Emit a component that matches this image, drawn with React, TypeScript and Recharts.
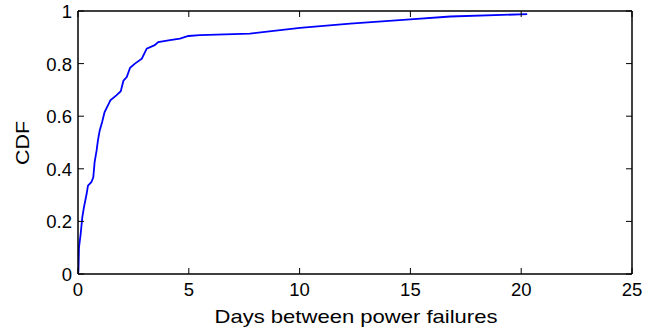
import React from 'react';
import { LineChart, Line, XAxis, YAxis } from 'recharts';

// Days between power failures (x) and cumulative fraction (y)
const days = [0, 0.02, 0.045, 0.12, 0.195, 0.27, 0.39, 0.45, 0.6, 0.69, 0.75, 0.84, 0.9, 0.98, 1.09, 1.2, 1.39, 1.46, 1.73, 1.93, 2.05, 2.2, 2.35, 2.57, 2.88, 3.1, 3.46, 3.62, 4.15, 4.6, 4.98, 5.5, 7.76, 10.02, 12.28, 14.99, 16.8, 20.27];
const cdf = [0, 0.013, 0.101, 0.152, 0.216, 0.254, 0.305, 0.336, 0.349, 0.368, 0.425, 0.47, 0.508, 0.546, 0.578, 0.616, 0.648, 0.66, 0.679, 0.695, 0.735, 0.749, 0.784, 0.8, 0.819, 0.857, 0.87, 0.882, 0.889, 0.895, 0.905, 0.908, 0.914, 0.936, 0.952, 0.968, 0.979, 0.988];

const xTicks = [0, 5, 10, 15, 20, 25];
const yTicks = [0, 0.2, 0.4, 0.6, 0.8, 1];
const yTickLabels = ['0', '0.2', '0.4', '0.6', '0.8', '1'];
const xLabel = 'Days between power failures';
const yLabel = 'CDF';

const data = days.map((d, i) => ({ x: d, y: cdf[i] }));

const FONT = '"Liberation Sans", Arial, Helvetica, sans-serif';
const TICK_LEN = 6;
const AXIS_W = 1.5;

const BottomTick = (props: any) => {
  const { x, y, payload } = props;
  return (
    <g>
      <line x1={x} y1={y} x2={x} y2={y - TICK_LEN} stroke="#000" strokeWidth={1} />
      <text x={x} y={y + 22} textAnchor="middle" fontFamily={FONT} fontSize={18.5} fill="#000">
        {String(payload.value)}
      </text>
    </g>
  );
};

const TopTick = (props: any) => {
  const { x, y } = props;
  return <line x1={x} y1={y} x2={x} y2={y + TICK_LEN} stroke="#000" strokeWidth={1} />;
};

const LeftTick = (props: any) => {
  const { x, y, payload } = props;
  const idx = yTicks.indexOf(payload.value);
  const lbl = idx >= 0 ? yTickLabels[idx] : String(payload.value);
  return (
    <g>
      <line x1={x} y1={y} x2={x + TICK_LEN} y2={y} stroke="#000" strokeWidth={1} />
      <text x={x - 6} y={y + 7} textAnchor="end" fontFamily={FONT} fontSize={18.5} fill="#000">
        {lbl}
      </text>
    </g>
  );
};

const RightTick = (props: any) => {
  const { x, y } = props;
  return <line x1={x} y1={y} x2={x - TICK_LEN} y2={y} stroke="#000" strokeWidth={1} />;
};

const XLabel = (props: any) => {
  const vb = props.viewBox || { x: 78, y: 274, width: 554 };
  const cx = vb.x + vb.width / 2 + 1;
  return (
    <text x={cx} y={323} textAnchor="middle" fontFamily={FONT} fontSize={18.5} fill="#000" textLength={283} lengthAdjust="spacingAndGlyphs">
      {xLabel}
    </text>
  );
};

const YLabel = () => {
  return (
    <text x={28.5} y={143} textAnchor="middle" fontFamily={FONT} fontSize={18.5} fill="#000" transform="rotate(-90, 28.5, 143)" textLength={44} lengthAdjust="spacingAndGlyphs">
      {yLabel}
    </text>
  );
};

export default function App() {
  return (
    <div style={{ position: 'absolute', left: 0, top: 0, width: 645, height: 332, background: '#fff' }}>
      <LineChart width={645} height={332} data={data} margin={{ top: 10, right: 12, bottom: 0, left: 18 }}>
        <XAxis
          xAxisId="bottom"
          dataKey="x"
          type="number"
          domain={[0, 25]}
          ticks={xTicks}
          interval={0}
          orientation="bottom"
          height={58}
          tickSize={0}
          tickMargin={0}
          tickLine={false}
          axisLine={{ stroke: '#000', strokeWidth: AXIS_W }}
          tick={<BottomTick />}
          label={<XLabel />}
          allowDataOverflow
        />
        <XAxis
          xAxisId="top"
          dataKey="x"
          type="number"
          domain={[0, 25]}
          ticks={xTicks}
          interval={0}
          orientation="top"
          height={1}
          tickSize={0}
          tickMargin={0}
          tickLine={false}
          axisLine={{ stroke: '#000', strokeWidth: AXIS_W }}
          tick={<TopTick />}
          allowDataOverflow
        />
        <YAxis
          yAxisId="left"
          type="number"
          domain={[0, 1]}
          ticks={yTicks}
          interval={0}
          orientation="left"
          width={60}
          tickSize={0}
          tickMargin={0}
          tickLine={false}
          axisLine={{ stroke: '#000', strokeWidth: AXIS_W }}
          tick={<LeftTick />}
          label={<YLabel />}
          allowDataOverflow
        />
        <YAxis
          yAxisId="right"
          type="number"
          domain={[0, 1]}
          ticks={yTicks}
          interval={0}
          orientation="right"
          width={1}
          tickSize={0}
          tickMargin={0}
          tickLine={false}
          axisLine={{ stroke: '#000', strokeWidth: AXIS_W }}
          tick={<RightTick />}
          allowDataOverflow
        />
        <Line
          xAxisId="bottom"
          yAxisId="left"
          type="linear"
          dataKey="y"
          stroke="#0000ff"
          strokeWidth={1.8}
          dot={false}
          isAnimationActive={false}
        />
      </LineChart>
    </div>
  );
}
